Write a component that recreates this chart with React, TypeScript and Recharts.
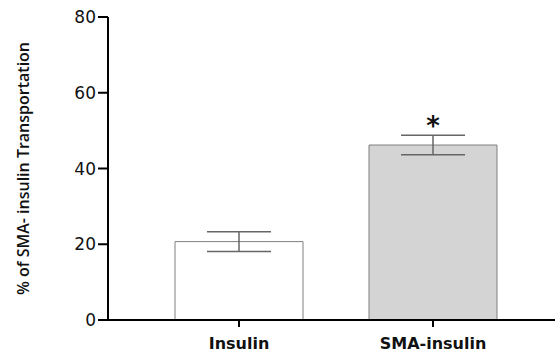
import React from 'react'
import { BarChart, Bar, XAxis, YAxis, ErrorBar, Cell, LabelList } from 'recharts'

const categories = ['Insulin', 'SMA-insulin']
const means = [20.7, 46.2]
const sems = [2.6, 2.6]
const marks = ['', '*']
const fills = ['#ffffff', '#d4d4d4']
const yTicks = [0, 20, 40, 60, 80]

const data = categories.map((name, i) => ({
  name,
  value: means[i],
  err: sems[i],
  mark: marks[i],
}))

export default function App() {
  return (
    <div style={{ position: 'absolute', left: 0, top: 0, background: '#fff' }}>
      <BarChart width={555} height={356} data={data} margin={{ top: 17, right: 0, bottom: 0, left: 0 }}>
        <XAxis
          dataKey="name"
          height={36}
          padding={{ left: 34, right: 25 }}
          axisLine={{ stroke: '#000', strokeWidth: 2 }}
          tickLine={{ stroke: '#000', strokeWidth: 2 }}
          tickSize={7}
          tickMargin={11}
          tick={{ fill: '#111', fontFamily: 'DejaVu Sans', fontWeight: 700, fontSize: 16 }}
        />
        <YAxis
          width={108}
          domain={[0, 80]}
          ticks={yTicks}
          axisLine={{ stroke: '#000', strokeWidth: 2 }}
          tickLine={{ stroke: '#000', strokeWidth: 2 }}
          tickSize={10}
          tickMargin={2}
          tick={{ fill: '#111', fontFamily: 'DejaVu Sans', fontSize: 17 }}
          label={{
            value: '% of SMA- insulin Transportation',
            angle: -90,
            position: 'insideLeft',
            offset: 23,
            style: { textAnchor: 'middle', fontFamily: 'Open Sans', fontWeight: 600, fontSize: 16, fill: '#111' },
          }}
        />
        <Bar dataKey="value" barSize={128} stroke="#7f7f7f" strokeWidth={1} isAnimationActive={false}>
          {data.map((d, i) => (
            <Cell key={d.name} fill={fills[i]} />
          ))}
          <ErrorBar dataKey="err" width={32} stroke="#666" strokeWidth={1.5} direction="y" />
          <LabelList
            dataKey="mark"
            position="top"
            offset={10}
            style={{ fontFamily: 'DejaVu Sans', fontWeight: 700, fontSize: 26, fill: '#111' }}
          />
        </Bar>
      </BarChart>
    </div>
  )
}
